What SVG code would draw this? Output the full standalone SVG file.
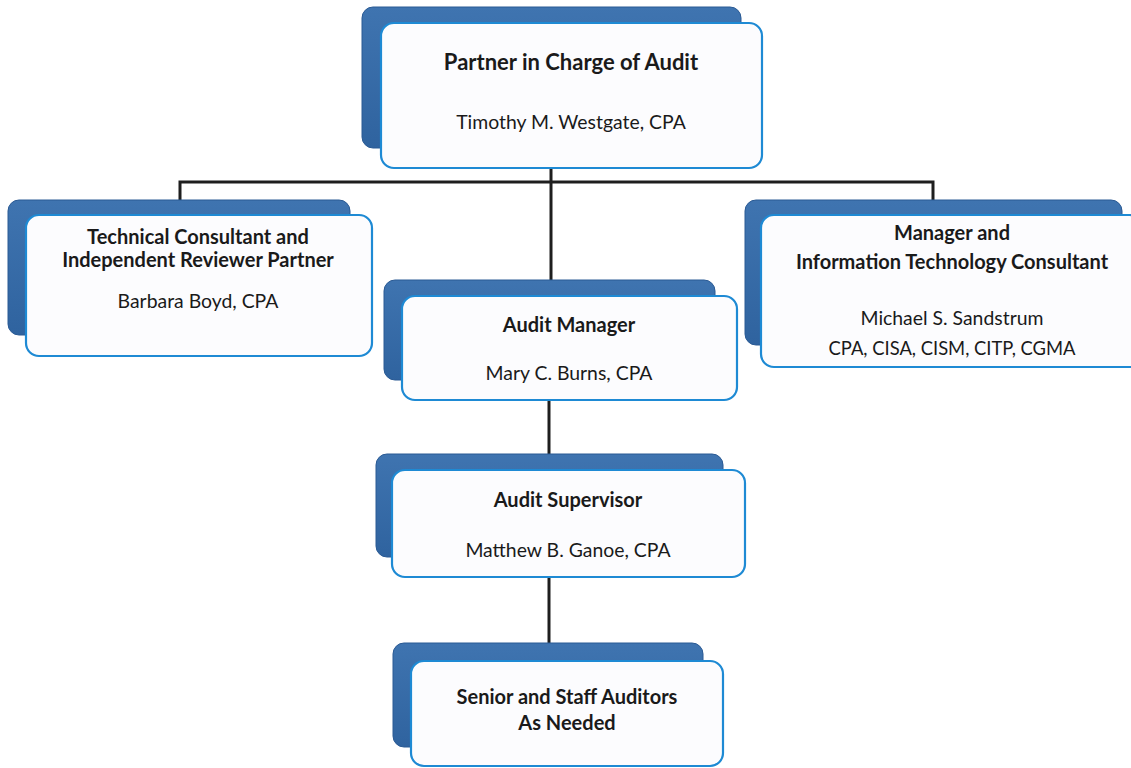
<svg xmlns="http://www.w3.org/2000/svg" width="1131" height="768" viewBox="0 0 1131 768">
  <defs>
    <linearGradient id="tab" x1="0" y1="0" x2="0" y2="1">
      <stop offset="0" stop-color="#3f74b0"/>
      <stop offset="1" stop-color="#2f639f"/>
    </linearGradient>
    <style>
      .back { fill: url(#tab); stroke: #2a5a94; stroke-width: 1; }
      .card { fill: #fcfcfe; stroke: #1e8ad4; stroke-width: 2.2; }
      .link { fill: none; stroke: #1e1e1e; stroke-width: 3; }
      text { font-family: Lato, "Liberation Sans", sans-serif; font-size: 19.4px; fill: #1a1a1a; text-anchor: middle; }
      .title { font-weight: bold; font-size: 20px; }
      .lead { font-size: 22px; }
    </style>
  </defs>
  <rect width="1131" height="768" fill="#ffffff"/>

  <!-- reporting lines -->
  <g id="connectors">
    <line class="link" x1="551" y1="168" x2="551" y2="281"/>
    <polyline class="link" points="180,201 180,182 933,182 933,201"/>
    <line class="link" x1="549" y1="400" x2="549" y2="455"/>
    <line class="link" x1="549" y1="577" x2="549" y2="644"/>
  </g>

  <g id="partner">
    <rect class="back" x="362" y="7" width="379" height="141" rx="11"/>
    <rect class="card" x="381" y="23" width="381" height="145" rx="13"/>
    <text class="title lead" x="571" y="70">Partner in Charge of Audit</text>
    <text x="571" y="129">Timothy M. Westgate, CPA</text>
  </g>

  <g id="technical-consultant">
    <rect class="back" x="8" y="200" width="342" height="135" rx="11"/>
    <rect class="card" x="26" y="215" width="346" height="141" rx="13"/>
    <text class="title" x="198" y="244">Technical Consultant and</text>
    <text class="title" x="198" y="267">Independent Reviewer Partner</text>
    <text x="198" y="308">Barbara Boyd, CPA</text>
  </g>

  <g id="it-consultant">
    <rect class="back" x="745" y="200" width="377" height="145" rx="11"/>
    <rect class="card" x="761" y="215" width="382" height="152" rx="13"/>
    <text class="title" x="952" y="240">Manager and</text>
    <text class="title" x="952" y="269">Information Technology Consultant</text>
    <text x="952" y="325">Michael S. Sandstrum</text>
    <text x="952" y="355" textLength="247" lengthAdjust="spacingAndGlyphs">CPA, CISA, CISM, CITP, CGMA</text>
  </g>

  <g id="audit-manager">
    <rect class="back" x="384" y="280" width="331" height="100" rx="11"/>
    <rect class="card" x="402" y="296" width="335" height="104" rx="13"/>
    <text class="title" x="569" y="332">Audit Manager</text>
    <text x="569" y="380">Mary C. Burns, CPA</text>
  </g>

  <g id="audit-supervisor">
    <rect class="back" x="376" y="454" width="347" height="103" rx="11"/>
    <rect class="card" x="392" y="470" width="353" height="107" rx="13"/>
    <text class="title" x="568" y="507">Audit Supervisor</text>
    <text x="568" y="557">Matthew B. Ganoe, CPA</text>
  </g>

  <g id="staff-auditors">
    <rect class="back" x="393" y="643" width="310" height="104" rx="11"/>
    <rect class="card" x="411" y="661" width="312" height="105" rx="13"/>
    <text class="title" x="567" y="704">Senior and Staff Auditors</text>
    <text class="title" x="567" y="730">As Needed</text>
  </g>
</svg>
